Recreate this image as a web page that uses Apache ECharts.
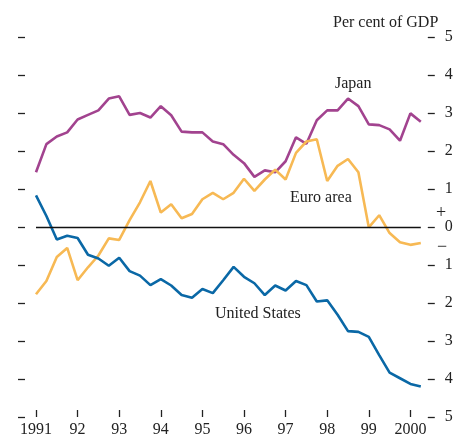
<!DOCTYPE html>
<html>
<head>
<meta charset="utf-8">
<script src="https://cdn.jsdelivr.net/npm/echarts@6/dist/echarts.min.js"></script>
<style>
html,body{margin:0;padding:0;background:#fff;}
#c{width:457px;height:438px;}
</style>
</head>
<body>
<div id="c"></div>
<script>
// Quarterly data, 1991 Q1 to 2000 Q2
var startYear = 1991;
var yearLabels = ['1991','92','93','94','95','96','97','98','99','2000'];
var yTickLabels = ['5','4','3','2','1','0','1','2','3','4','5'];
var japan = [1.44,2.18,2.38,2.49,2.83,2.95,3.07,3.38,3.44,2.95,3.00,2.88,3.18,2.94,2.51,2.49,2.49,2.25,2.18,1.90,1.68,1.32,1.49,1.44,1.73,2.36,2.19,2.81,3.07,3.07,3.38,3.18,2.70,2.68,2.57,2.27,2.99,2.77];
var euroArea = [-1.77,-1.42,-0.79,-0.55,-1.40,-1.06,-0.75,-0.30,-0.34,0.18,0.65,1.21,0.38,0.60,0.23,0.34,0.73,0.90,0.73,0.90,1.27,0.95,1.25,1.51,1.25,1.95,2.25,2.31,1.21,1.61,1.79,1.44,-0.01,0.31,-0.16,-0.40,-0.47,-0.42];
var unitedStates = [0.83,0.29,-0.33,-0.23,-0.29,-0.73,-0.83,-1.02,-0.81,-1.16,-1.28,-1.53,-1.37,-1.54,-1.79,-1.86,-1.63,-1.74,-1.40,-1.05,-1.31,-1.48,-1.79,-1.54,-1.67,-1.42,-1.53,-1.96,-1.93,-2.31,-2.74,-2.76,-2.89,-3.37,-3.83,-3.98,-4.13,-4.20];

function toPairs(arr){ return arr.map(function(v,i){ return [startYear + i/4, v]; }); }
var yearTicks = yearLabels.map(function(l,i){ return startYear + i; });

var FONT = '"Liberation Serif", "DejaVu Serif", serif';
var FS = 16;
var chart = echarts.init(document.getElementById('c'));
var tickStyle = {color:'#222', width:1.3};
chart.setOption({
  animation:false,
  grid:{left:36, right:457-420.8, top:37, bottom:17},
  xAxis:[{
    type:'value', min:startYear, max:startYear + (japan.length-1)/4, interval:1,
    axisLine:{show:false, onZero:false},
    axisTick:{show:false},
    splitLine:{show:false},
    axisLabel:{margin:5, fontFamily:FONT, fontSize:FS, color:'#222', showMaxLabel:false,
      formatter:function(v){ var i = Math.round(v - startYear); return yearLabels[i] || ''; }}
  },{
    type:'value', position:'bottom', min:startYear, max:startYear + (japan.length-1)/4, interval:1,
    axisLine:{show:true, onZero:false, lineStyle:{color:'#fff', width:0, opacity:0}},
    axisTick:{show:true, inside:true, length:7, customValues:yearTicks, lineStyle:{color:'#222', width:1.3}},
    splitLine:{show:false},
    axisLabel:{show:false}
  }],
  yAxis:[
    {type:'value', min:-5, max:5, interval:1, position:'left', offset:11,
      axisLine:{show:true, lineStyle:{color:'rgba(0,0,0,0)'}}, axisTick:{show:true, length:7, lineStyle:tickStyle},
      axisLabel:{show:false}, splitLine:{show:false}},
    {type:'value', min:-5, max:5, interval:1, position:'right', offset:7,
      axisLine:{show:true, lineStyle:{color:'rgba(0,0,0,0)'}}, axisTick:{show:true, length:7, lineStyle:tickStyle},
      splitLine:{show:false},
      axisLabel:{margin:17, fontFamily:FONT, fontSize:FS, color:'#222',
        formatter:function(v){ return yTickLabels[5 - Math.round(v)]; }}}
  ],
  series:[
    {type:'line', name:'Japan', data:toPairs(japan), showSymbol:false,
      lineStyle:{color:'#a2438f', width:2.6}, itemStyle:{color:'#a2438f'},
      markLine:{silent:true, symbol:'none', label:{show:false},
        lineStyle:{color:'#111', width:1.3, type:'solid'}, data:[{yAxis:0}]}},
    {type:'line', name:'Euro area', data:toPairs(euroArea), showSymbol:false,
      lineStyle:{color:'#f7b954', width:2.6}, itemStyle:{color:'#f7b954'}},
    {type:'line', name:'United States', data:toPairs(unitedStates), showSymbol:false,
      lineStyle:{color:'#0a68a6', width:2.6}, itemStyle:{color:'#0a68a6'}}
  ],
  graphic:[
    {type:'text', left:333, top:15, style:{text:'Per cent of GDP', fontFamily:FONT, fontSize:FS, fill:'#222'}},
    {type:'text', left:335, top:76, style:{text:'Japan', fontFamily:FONT, fontSize:FS, fill:'#222'}},
    {type:'text', left:290, top:190, style:{text:'Euro area', fontFamily:FONT, fontSize:FS, fill:'#222'}},
    {type:'text', left:215, top:306, style:{text:'United States', fontFamily:FONT, fontSize:FS, fill:'#222'}},
    {type:'text', left:436, top:204, style:{text:'+', fontFamily:FONT, fontSize:18, fill:'#222'}},
    {type:'text', left:437, top:238, style:{text:'\u2212', fontFamily:FONT, fontSize:18, fill:'#222'}}
  ]
});
</script>
</body>
</html>
